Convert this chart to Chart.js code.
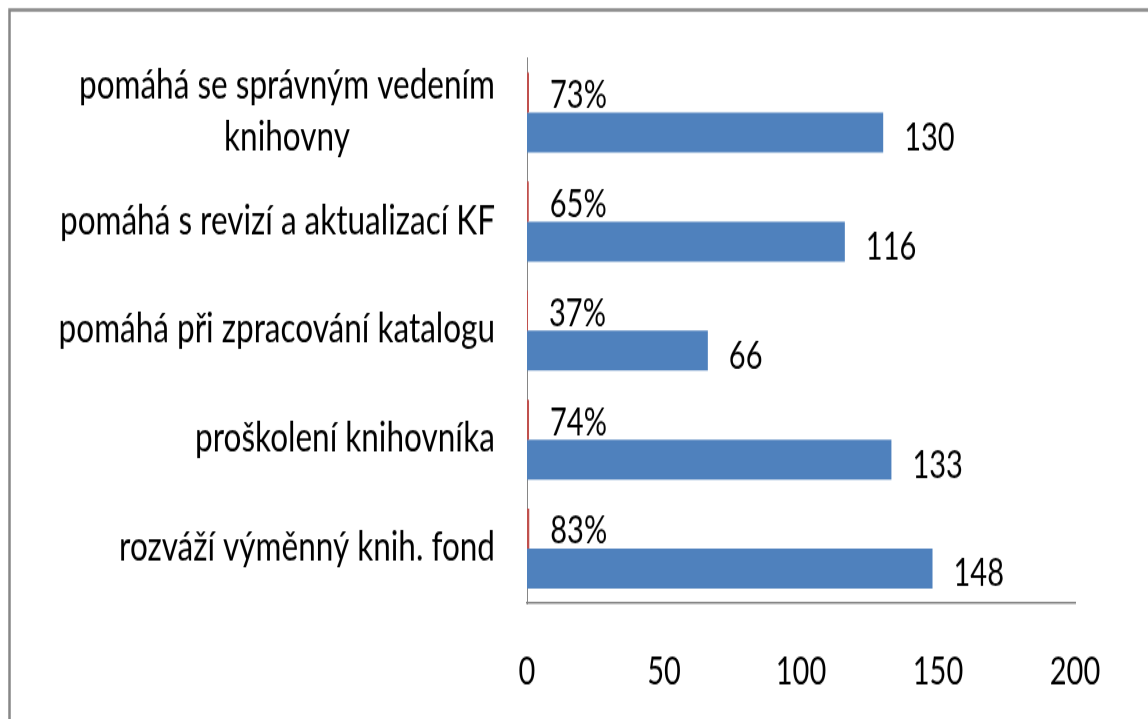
<!DOCTYPE html>
<html>
<head>
<meta charset="utf-8">
<script src="https://cdn.jsdelivr.net/npm/chart.js@4/dist/chart.umd.min.js"></script>
<style>
  html, body { margin: 0; padding: 0; background: #fff; }
  body { width: 1148px; height: 719px; overflow: hidden; position: relative; }
  #wrap { position: absolute; left: 0; top: 0; width: 1148px; height: 540px; transform: scaleY(1.331481); transform-origin: 0 0; }
</style>
</head>
<body>
<div id="wrap"><canvas id="c" width="1148" height="540"></canvas></div>
<script>
const categories = [
  ["pomáhá se správným vedením", "knihovny"],
  "pomáhá s revizí a aktualizací KF",
  "pomáhá při zpracování katalogu",
  "proškolení knihovníka",
  "rozváží výměnný knih. fond"
];
const counts = [130, 116, 66, 133, 148];
const shares = [0.73, 0.65, 0.37, 0.74, 0.83];
const xTicks = [0, 50, 100, 150, 200];

const FAMILY = "Lato, 'Open Sans', sans-serif";
const FONT = { family: FAMILY, size: 29 };
const fontStr = FONT.size + "px " + FAMILY;
const catFontStr = "31.5px " + FAMILY;

const labelPlugin = {
  id: 'labels',
  beforeDraw(chart) {
    const ctx = chart.ctx;
    ctx.save();
    ctx.fillStyle = '#fff';
    ctx.fillRect(0, 0, chart.width, chart.height);
    ctx.strokeStyle = '#878787';
    ctx.lineWidth = 2.5;
    ctx.strokeRect(9.5, 7.5, 1300, 700);
    ctx.restore();
  },
  afterDatasetsDraw(chart) {
    const ctx = chart.ctx;
    ctx.save();
    ctx.font = fontStr;
    ctx.fillStyle = '#000';
    ctx.textBaseline = 'middle';
    ctx.textAlign = 'left';
    chart.data.datasets.forEach((ds, di) => {
      const meta = chart.getDatasetMeta(di);
      meta.data.forEach((bar, i) => {
        const v = ds.data[i];
        const txt = di === 0 ? Math.round(v * 100) + '%' : String(v);
        ctx.fillText(txt, bar.x + 21, bar.y + (di === 0 ? 2 : 4));
      });
    });
    // category labels
    ctx.font = catFontStr;
    const ys = chart.scales.y;
    const right = 495;
    categories.forEach((c, i) => {
      const lines = Array.isArray(c) ? c : [c];
      const maxW = Math.max(...lines.map(l => ctx.measureText(l).width));
      const cy = ys.getPixelForValue(i);
      const lh = 39;
      const cx = right - maxW / 2;
      ctx.textAlign = 'center';
      lines.forEach((l, k) => {
        const y = cy + (k - (lines.length - 1) / 2) * lh - 1;
        ctx.fillText(l, cx, y);
      });
    });
    ctx.restore();
  }
};

new Chart(document.getElementById('c'), {
  type: 'bar',
  data: {
    labels: categories,
    datasets: [
      { data: shares, backgroundColor: '#C0504D', categoryPercentage: 0.734, barPercentage: 1 },
      { data: counts, backgroundColor: '#4F81BD', categoryPercentage: 0.734, barPercentage: 1 }
    ]
  },
  options: {
    indexAxis: 'y',
    responsive: false,
    animation: false,
    devicePixelRatio: 1,
    layout: { padding: { top: 43.6, right: 73, bottom: 0, left: 0 } },
    plugins: { legend: { display: false }, tooltip: { enabled: false } },
    scales: {
      x: {
        min: 0, max: 200,
        afterBuildTicks: s => { s.ticks = xTicks.map(v => ({ value: v })); },
        afterFit: s => { s.height = 87; },
        grid: { display: false, drawTicks: false },
        border: { display: true, color: '#868686', width: 1.5 },
        ticks: { color: '#000', font: FONT, padding: 34, maxRotation: 0 }
      },
      y: {
        grid: { display: false, drawTicks: false },
        border: { display: true, color: '#868686', width: 1 },
        ticks: { display: false },
        afterFit: s => { s.width = 527; }
      }
    }
  },
  plugins: [labelPlugin]
});
</script>
</body>
</html>
